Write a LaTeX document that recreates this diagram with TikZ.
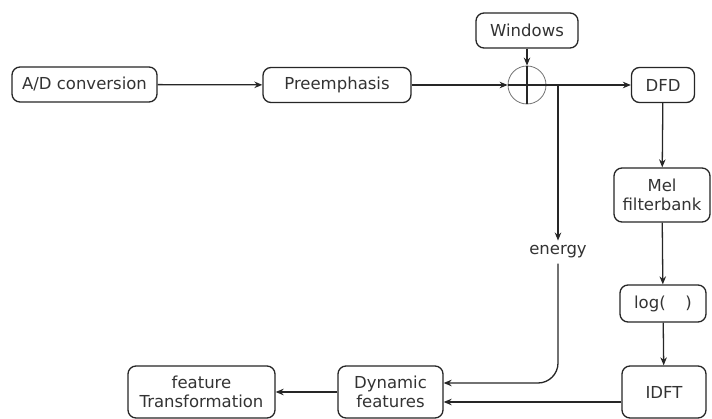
\documentclass[tikz,border=0pt]{standalone}
\usepackage{fontspec}
\setmainfont{DejaVu Sans}
\usetikzlibrary{arrows.meta}
\begin{document}
\begin{tikzpicture}[x=1pt,y=-1pt,
  box/.style={draw=black!85, line width=1.3pt, rounded corners=8pt, fill=white,
    align=center, inner sep=0pt, text=black!80,
    font=\fontsize{16.5}{19.5}\selectfont},
  lbl/.style={inner sep=5pt, text=black!80, font=\fontsize{16.5}{19.5}\selectfont},
  wire/.style={line width=1.3pt, draw=black!85},
  conn/.style={wire, -{Stealth[length=8pt,width=6.5pt]}},
]
\useasboundingbox (0,0) rectangle (712,419);

% processing blocks
\node[box, minimum width=145pt, minimum height=35pt] (ad)  at (84.5,84.5) {A/D conversion};
\node[box, minimum width=148pt, minimum height=35pt] (pre) at (337,85)   {Preemphasis};
\node[box, minimum width=102pt, minimum height=35pt] (win) at (527,30.5) {Windows};
\node[box, minimum width=63pt,  minimum height=35pt] (dfd) at (663,85)   {DFD};
\node[box, minimum width=96pt,  minimum height=54pt] (mel) at (662,195)  {Mel\\filterbank};
\node[box, minimum width=86pt,  minimum height=37pt] (log) at (663,303.5) {log(\hspace{1.2em})};
\node[box, minimum width=84pt,  minimum height=52pt] (idft) at (664,392) {IDFT};
\node[box, minimum width=105pt, minimum height=52pt] (dyn) at (390.5,392) {Dynamic\\features};
\node[box, minimum width=147pt, minimum height=52pt] (ft)  at (201.5,392) {feature\\Transformation};

% summing junction
\node[circle, draw=black!55, line width=0.8pt, minimum size=38pt, inner sep=0pt] (sum) at (527,85) {};
\draw[wire] (sum.north) -- (sum.south);
\draw[wire] (sum.west) -- (sum.east);

% energy label
\node[lbl, anchor=base] (energy) at (558,255) {energy};
\coordinate (br) at (558,85);

% connectors
\draw[conn] (ad) -- (pre);
\draw[conn] (pre) -- (sum.west);
\draw[conn] (win) -- (sum.north);
\draw[conn] (sum.east) -- (dfd);
\draw[conn] (br) -- (energy.north);
\draw[conn] (dfd) -- (mel);
\draw[conn] (mel) -- (log);
\draw[conn] (log) -- (idft);
\draw[conn, rounded corners=20pt] (energy.south) |- ([yshift=9pt]dyn.east);
\draw[conn] ([yshift=-10pt]idft.west) -- ([yshift=-10pt]dyn.east);
\draw[conn] (dyn) -- (ft);
\end{tikzpicture}
\end{document}
